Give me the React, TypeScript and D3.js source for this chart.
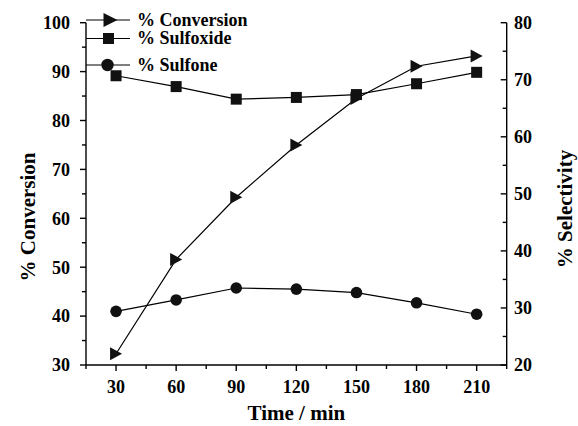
import React from "react";
import * as d3 from "d3";

const times = [30, 60, 90, 120, 150, 180, 210];
const conversion = [32.3, 51.6, 64.3, 75.0, 84.5, 91.1, 93.2];
const sulfoxide = [70.7, 68.8, 66.6, 66.9, 67.4, 69.3, 71.3];
const sulfone = [29.4, 31.4, 33.5, 33.3, 32.7, 30.9, 28.9];
const leftTicks = [30, 40, 50, 60, 70, 80, 90, 100];
const rightTicks = [20, 30, 40, 50, 60, 70, 80];
const xTicks = [30, 60, 90, 120, 150, 180, 210];
const legendLabels = ["% Conversion", "% Sulfoxide", "% Sulfone"];

const W = 578;
const H = 426;
const font = "Liberation Serif, Times New Roman, serif";

export default function App() {
  const x = d3.scaleLinear().domain([15, 225]).range([86, 506.7]);
  const yL = d3.scaleLinear().domain([30, 100]).range([365, 22.7]);
  const yR = d3.scaleLinear().domain([20, 80]).range([365, 22.7]);

  const lineL = d3.line<number>().x((_, i) => x(times[i])).y((d) => yL(d));
  const lineR = d3.line<number>().x((_, i) => x(times[i])).y((d) => yR(d));

  const xMinor = d3.range(15, 226, 15);
  const lMinor = d3.range(30, 101, 5);
  const rMinor = d3.range(20, 81, 5);

  const tri = (cx: number, cy: number, w = 12, h = 13) =>
    `M${cx - w / 2},${cy - h / 2}L${cx + w / 2},${cy}L${cx - w / 2},${cy + h / 2}Z`;

  const sq = 11;
  const cr = 5.8;

  const x0 = x.range()[0];
  const x1 = x.range()[1];
  const yb = yL.range()[0];
  const yt = yL.range()[1];

  const legendY = [20, 38.5, 65];
  const legendMarkerX = 108.5;

  const tickStyle: React.CSSProperties = { fontFamily: font, fontWeight: 700, fontSize: 18 };
  const titleStyle: React.CSSProperties = { fontFamily: font, fontWeight: 700, fontSize: 21 };

  return (
    <svg width={W} height={H} style={{ position: "absolute", left: 0, top: 0 }}>
      <rect x={0} y={0} width={W} height={H} fill="#fff" />
      {/* axes */}
      <g stroke="#000" strokeWidth={1.4} fill="none">
        <line x1={x0} y1={yt} x2={x0} y2={yb} />
        <line x1={x1} y1={yt} x2={x1} y2={yb} />
        <line x1={x0} y1={yb} x2={x1} y2={yb} />
        {xMinor.map((t) => (
          <line key={"xm" + t} x1={x(t)} x2={x(t)} y1={yb} y2={yb + (xTicks.includes(t) ? 6 : 4)} />
        ))}
        {lMinor.map((t) => (
          <line key={"lm" + t} x1={x0} x2={x0 - (t % 10 === 0 ? 6 : 4)} y1={yL(t)} y2={yL(t)} />
        ))}
        {rMinor.map((t) => (
          <line key={"rm" + t} x1={x1} x2={x1 - (t % 10 === 0 ? 6 : 4)} y1={yR(t)} y2={yR(t)} />
        ))}
      </g>
      {/* tick labels */}
      <g fill="#000">
        {leftTicks.map((t) => (
          <text key={"lt" + t} x={70} y={yL(t)} dy="0.35em" textAnchor="end" style={tickStyle}>
            {t}
          </text>
        ))}
        {rightTicks.map((t) => (
          <text key={"rt" + t} x={514} y={yR(t)} dy="0.35em" textAnchor="start" style={tickStyle}>
            {t}
          </text>
        ))}
        {xTicks.map((t) => (
          <text key={"xt" + t} x={x(t)} y={393} textAnchor="middle" style={tickStyle}>
            {t}
          </text>
        ))}
      </g>
      {/* titles */}
      <g fill="#000">
        <text x={(x0 + x1) / 2} y={420} textAnchor="middle" style={titleStyle}>
          Time / min
        </text>
        <text transform={`translate(35,217) rotate(-90)`} textAnchor="middle" style={titleStyle}>
          % Conversion
        </text>
        <text transform={`translate(572,209) rotate(-90)`} textAnchor="middle" style={titleStyle}>
          % Selectivity
        </text>
      </g>
      {/* series */}
      <g fill="none" stroke="#000" strokeWidth={1.2}>
        <path d={lineL(conversion) || ""} />
        <path d={lineR(sulfoxide) || ""} />
        <path d={lineR(sulfone) || ""} />
      </g>
      <g fill="#111">
        {conversion.map((v, i) => (
          <path key={"c" + i} d={tri(x(times[i]), yL(v))} />
        ))}
        {sulfoxide.map((v, i) => (
          <rect key={"s" + i} x={x(times[i]) - sq / 2} y={yR(v) - sq / 2} width={sq} height={sq} />
        ))}
        {sulfone.map((v, i) => (
          <circle key={"o" + i} cx={x(times[i])} cy={yR(v)} r={cr} />
        ))}
      </g>
      {/* legend */}
      <g>
        {legendLabels.map((lab, i) => (
          <g key={lab}>
            <line x1={86} x2={130} y1={legendY[i]} y2={legendY[i]} stroke="#000" strokeWidth={1.2} />
            {i === 0 && <path d={tri(110.5, legendY[i], 14, 14)} fill="#111" />}
            {i === 1 && (
              <rect x={legendMarkerX - sq / 2} y={legendY[i] - sq / 2} width={sq} height={sq} fill="#111" />
            )}
            {i === 2 && <circle cx={legendMarkerX - 1} cy={legendY[i]} r={6.2} fill="#111" />}
            <text x={137} y={legendY[i]} dy="0.33em" fill="#000" style={tickStyle}>
              {lab}
            </text>
          </g>
        ))}
      </g>
    </svg>
  );
}
